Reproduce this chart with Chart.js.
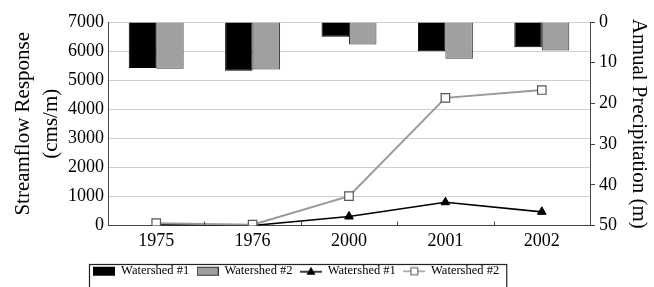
<!DOCTYPE html>
<html><head><meta charset="utf-8">
<script src="https://cdn.jsdelivr.net/npm/chart.js@4/dist/chart.umd.min.js"></script>
<style>html,body{margin:0;padding:0;background:#fff}#wrap{width:654px;height:287px}</style>
</head><body><div id="wrap"><canvas id="c" width="654" height="287"></canvas></div>
<script>
// ---- data ----
const years = ['1975', '1976', '2000', '2001', '2002'];
const precipWS1 = [11.3, 12.0, 3.6, 7.2, 6.2];   // Annual precipitation (m), bars
const precipWS2 = [11.5, 11.7, 5.5, 9.0, 7.0];
const flowWS1 = [30, 0, 310, 800, 470];           // Streamflow response (cms/m), lines
const flowWS2 = [80, 30, 1010, 4390, 4660];
const seriesNames = ['Watershed #1', 'Watershed #2', 'Watershed #1', 'Watershed #2'];
const flowAxisRange = [0, 7000, 1000];
const precipAxisRange = [0, 50, 10];
const leftTitle = ['Streamflow Response', '(cms/m)'];
const rightTitle = 'Annual Precipitation (m)';

Chart.defaults.font.family = "'Liberation Serif', 'Times New Roman', serif";
Chart.defaults.color = '#000';

function icon(draw) {
  const c = document.createElement('canvas');
  c.width = 22; c.height = 12;
  draw(c.getContext('2d'));
  return c;
}
const icons = [
  icon(g => { g.fillStyle = '#000'; g.fillRect(0, 2, 22, 9); }),
  icon(g => { g.fillStyle = '#a0a0a0'; g.fillRect(0.5, 2.5, 21, 8); g.strokeStyle = '#333'; g.lineWidth = 1; g.strokeRect(0.5, 2.5, 21, 8); }),
  icon(g => { g.strokeStyle = '#000'; g.lineWidth = 1.5; g.beginPath(); g.moveTo(0, 7); g.lineTo(22, 7); g.stroke();
              g.fillStyle = '#000'; g.beginPath(); g.moveTo(11, 2); g.lineTo(15.5, 10); g.lineTo(6.5, 10); g.closePath(); g.fill(); }),
  icon(g => { g.strokeStyle = '#999'; g.lineWidth = 1.5; g.beginPath(); g.moveTo(0, 6.5); g.lineTo(22, 6.5); g.stroke();
              g.fillStyle = '#fff'; g.fillRect(7.5, 3, 7, 7); g.strokeStyle = '#555'; g.lineWidth = 1; g.strokeRect(7.5, 3, 7, 7); })
];

const decor = {
  id: 'decor',
  afterLayout(chart) {
    const lg = chart.legend;
    lg.left = 0; lg.right = 593; lg.width = 593;
  },
  afterDraw(chart) {
    const ctx = chart.ctx, xs = chart.scales.x, area = chart.chartArea;
    ctx.save();
    ctx.strokeStyle = '#444'; ctx.lineWidth = 1;
    for (let i = 1; i < years.length; i++) {
      const x = Math.round((xs.getPixelForValue(i - 1) + xs.getPixelForValue(i)) / 2) + 0.5;
      ctx.beginPath(); ctx.moveTo(x, area.bottom); ctx.lineTo(x, area.bottom - 4); ctx.stroke();
    }
    const lg = chart.legend, pad = lg.options.labels.padding;
    const lw = lg.lineWidths[0];
    const sx = (lg.left + pad + lg.right - lw) / 2;
    ctx.strokeStyle = '#222'; ctx.lineWidth = 1.2;
    ctx.strokeRect(Math.round(sx) - 4.5, Math.round(lg.top) + 7.5, lw - pad + 12, 40);
    ctx.restore();
  }
};

const plainTick = v => String(v);

new Chart(document.getElementById('c'), {
  data: {
    labels: years,
    datasets: [
      { type: 'bar', label: seriesNames[0], data: precipWS1, yAxisID: 'y2', backgroundColor: '#000', borderColor: '#000', borderWidth: 1, categoryPercentage: 0.57, barPercentage: 1, order: 2 },
      { type: 'bar', label: seriesNames[1], data: precipWS2, yAxisID: 'y2', backgroundColor: '#a0a0a0', borderColor: '#333', borderWidth: 1, categoryPercentage: 0.57, barPercentage: 1, order: 2 },
      { type: 'line', label: seriesNames[2], data: flowWS1, yAxisID: 'y', borderColor: '#000', borderWidth: 1.6, pointStyle: 'triangle', pointRadius: 5, pointBackgroundColor: '#000', pointBorderColor: '#000', pointBorderWidth: 1, tension: 0, order: 1 },
      { type: 'line', label: seriesNames[3], data: flowWS2, yAxisID: 'y', borderColor: '#999', borderWidth: 2, pointStyle: 'rect', pointRadius: 6, pointBackgroundColor: '#fff', pointBorderColor: '#555', pointBorderWidth: 1.2, tension: 0, order: 0 }
    ]
  },
  options: {
    responsive: false,
    animation: false,
    devicePixelRatio: 1,
    layout: { padding: { top: 22, left: 0, right: 0, bottom: 0 } },
    plugins: {
      tooltip: { enabled: false },
      legend: {
        position: 'bottom',
        labels: {
          usePointStyle: true, pointStyleWidth: 21, boxHeight: 12,
          padding: 8,
          font: { size: 12.5 },
          color: '#000',
          generateLabels: () => seriesNames.map((t, i) => ({ text: t, pointStyle: icons[i], datasetIndex: i, hidden: false, lineWidth: 0, fillStyle: '#000', strokeStyle: '#000', fontColor: '#000' }))
        }
      }
    },
    scales: {
      x: {
        type: 'category',
        grid: { display: false, drawTicks: false },
        border: { color: '#444', width: 1 },
        ticks: { font: { size: 18 }, padding: 5, color: '#000' },
        afterFit: s => { s.height = 31; }
      },
      y: {
        position: 'left',
        min: flowAxisRange[0], max: flowAxisRange[1],
        ticks: { stepSize: flowAxisRange[2], font: { size: 18 }, padding: 4, color: '#000', callback: plainTick },
        grid: { color: '#cfcfcf', drawTicks: false },
        border: { color: '#444', width: 1 },
        title: { display: true, text: leftTitle, font: { size: 21, lineHeight: 1.33 }, padding: { top: 10, bottom: 0 }, color: '#000' },
        afterFit: s => { s.width = 108; }
      },
      y2: {
        position: 'right',
        reverse: true,
        min: precipAxisRange[0], max: precipAxisRange[1],
        ticks: { stepSize: precipAxisRange[2], font: { size: 18 }, padding: 4, color: '#000', callback: plainTick },
        grid: { drawOnChartArea: false, tickLength: 5, color: '#444' },
        border: { color: '#444', width: 1 },
        title: { display: true, text: rightTitle, font: { size: 21, lineHeight: 1.33 }, padding: { top: 2, bottom: 0 }, color: '#000' },
        afterFit: s => { s.width = 64; }
      }
    }
  },
  plugins: [decor]
});
</script>
</body></html>
